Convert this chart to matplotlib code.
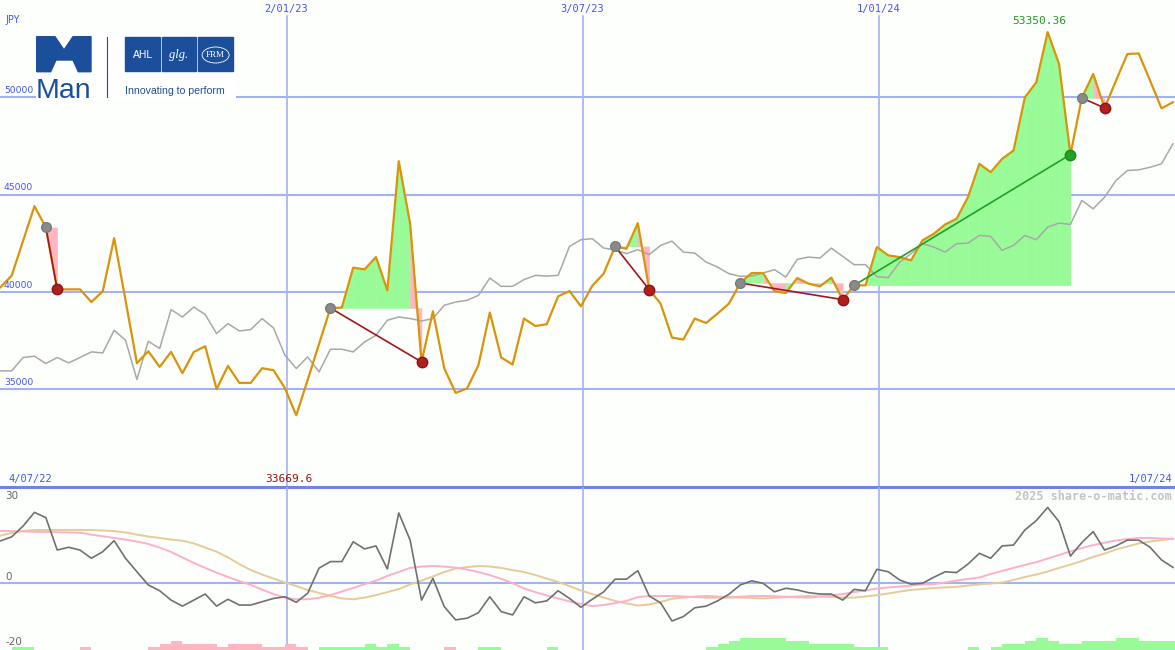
import numpy as np
import pandas as pd
import matplotlib
matplotlib.use("Agg")
import matplotlib.pyplot as plt
import matplotlib.dates as mdates
import matplotlib.transforms as mtransforms
from matplotlib.patches import Polygon, Rectangle, Ellipse

# ---------------- data ----------------
start_date = "2022-07-10"
n_weeks = 104

price = [
    40241, 40841, 42626, 44410, 43318, 40138, 40138, 40138, 39487, 40036,
    42769, 39574, 36344, 36959, 36154, 36923, 35831, 36923, 37215, 35010,
    36205, 35333, 35333, 36087, 35985, 35062, 33669.6, 35487, 37333, 39179,
    39200, 41251, 41164, 41795, 40087, 46718, 43508, 36410, 39010, 36072,
    34820, 35046, 36241, 38944, 36636, 36277, 38636, 38256, 38344, 39779,
    40051, 39267, 40318, 40944, 42344, 42226, 43538, 40123, 39405, 37662,
    37559, 38636, 38410, 38892, 39405, 40462, 40974, 40974, 40036, 39949,
    40718, 40431, 40292, 40738, 39610, 40344, 40344, 42308, 41882, 41795,
    41626, 42651, 42994, 43472, 43764, 44872, 46585, 46154, 46841, 47267,
    50000, 50769, 53350.36, 51713, 47062, 49969, 51200, 49456, 50856, 52226,
    52256, 50856, 49436, 49744,
]

compare = [
    35949, 35949, 36636, 36703, 36328, 36636, 36359, 36636, 36923, 36872,
    38036, 37523, 35508, 37472, 37097, 39097, 38718, 39231, 38841, 37867,
    38379, 38000, 38072, 38636, 38154, 36754, 36072, 36667, 35897, 37062,
    37062, 36923, 37436, 37779, 38549, 38718, 38636, 38513, 38636, 39318,
    39487, 39574, 39831, 40718, 40292, 40292, 40636, 40856, 40821, 40856,
    42344, 42687, 42738, 42256, 42174, 41969, 42174, 41918, 42395, 42615,
    42051, 42000, 41538, 41282, 40944, 40805, 40821, 40974, 41149, 40769,
    41677, 41795, 41744, 42256, 41831, 41405, 41405, 40790, 40738, 41538,
    41969, 42482, 42308, 42051, 42482, 42513, 42908, 42856, 42138, 42395,
    42908, 42687, 43333, 43538, 43472, 44703, 44277, 44872, 45728, 46241,
    46277, 46410, 46585, 47610,
]

osc = [
    15.4, 16.9, 20.8, 25.8, 23.9, 12.1, 13.1, 12.1, 9.1, 11.5,
    15.5, 9.1, 4.2, -0.6, -2.7, -6.1, -8.3, -6.1, -3.9, -8.3,
    -5.8, -7.9, -7.9, -6.7, -5.5, -4.9, -6.9, -3.6, 5.5, 7.9,
    7.9, 15.1, 12.5, 13.6, 5.2, 25.6, 15.7, -6.1, 1.8, -8.5,
    -13.3, -12.7, -10.7, -4.9, -10.3, -11.5, -4.9, -7.1, -6.4, -2.7,
    -5.5, -8.7, -5.8, -3.1, 1.5, 1.5, 4.6, -4.6, -7.1, -13.7,
    -12.1, -8.9, -8.3, -6.4, -4.0, -0.6, 0.9, 0.0, -3.1, -1.8,
    -2.4, -3.4, -3.9, -3.9, -6.1, -2.2, -2.7, 5.1, 4.2, 1.2,
    -0.3, 0.0, 2.2, 4.2, 3.9, 7.0, 10.9, 9.1, 13.6, 13.9,
    19.4, 22.8, 27.6, 22.4, 9.9, 14.8, 18.8, 12.1, 13.6, 15.7,
    15.7, 13.1, 8.5, 5.8,
]

osc_fast = [
    19.1, 19.0, 18.9, 18.7, 18.7, 18.6, 18.5, 18.4, 17.7, 17.1,
    16.5, 15.9, 15.2, 14.3, 13.0, 11.4, 9.4, 7.4, 5.6, 3.9,
    2.3, 0.8, -0.6, -2.3, -3.9, -5.2, -5.8, -5.8, -5.3, -4.3,
    -3.0, -1.7, -0.3, 1.0, 2.7, 4.1, 5.6, 6.1, 6.3, 6.1,
    5.7, 5.0, 4.1, 3.0, 1.6, 0.1, -1.9, -3.2, -4.4, -5.5,
    -6.6, -7.5, -8.3, -7.9, -7.2, -6.4, -5.0, -4.6, -4.6, -4.6,
    -4.8, -5.0, -5.2, -5.2, -5.2, -4.9, -4.6, -4.6, -4.7, -4.9,
    -5.1, -5.2, -4.8, -4.4, -3.9, -3.2, -2.6, -1.9, -1.5, -1.2,
    -0.8, -0.4, -0.3, 0.3, 1.0, 1.6, 2.1, 3.4, 4.5, 5.6,
    6.7, 7.7, 9.0, 10.3, 11.6, 12.8, 13.9, 14.8, 15.6, 16.1,
    16.5, 16.5, 16.3, 16.1,
]

osc_slow = [
    17.3, 18.3, 19.0, 19.4, 19.4, 19.4, 19.4, 19.4, 19.4, 19.2,
    19.0, 18.5, 17.7, 17.0, 16.5, 15.9, 15.5, 14.5, 13.0, 11.5,
    9.4, 7.0, 4.8, 3.2, 1.7, 0.3, -1.0, -2.4, -3.5, -4.6,
    -5.5, -5.8, -5.2, -4.3, -3.2, -2.1, -0.4, 1.0, 2.5, 4.1,
    5.4, 5.9, 6.3, 6.1, 5.6, 4.8, 4.1, 3.0, 1.7, 0.5,
    -1.0, -2.6, -3.9, -5.2, -6.4, -7.3, -8.1, -7.7, -6.8, -5.6,
    -5.2, -4.8, -4.6, -4.8, -5.0, -5.2, -5.3, -5.5, -5.3, -5.0,
    -4.8, -4.6, -4.8, -5.0, -5.2, -5.2, -4.8, -4.3, -3.7, -3.0,
    -2.4, -2.1, -1.7, -1.5, -1.3, -0.8, -0.4, -0.1, 0.3, 1.2,
    2.3, 3.2, 4.3, 5.6, 6.8, 8.1, 9.6, 10.8, 12.3, 13.4,
    14.5, 15.2, 15.7, 16.3,
]

hist = [
    0, 1, 1, 0, 0, 0, 0, -1, 0, 0,
    0, 0, 0, -1, -2, -3, -2, -2, -2, -1,
    -2, -2, -2, -1, -1, -2, -1, 0, 1, 1,
    1, 1, 2, 1, 2, 1, 0, 0, 0, -1,
    0, 0, 1, 1, 0, 0, 0, 0, 1, 0,
    0, 0, 0, 0, 0, 0, 0, 0, 0, 0,
    0, 0, 1, 2, 3, 4, 4, 4, 4, 3,
    3, 2, 2, 2, 2, 1, 1, 1, 0, 0,
    0, 0, 0, 0, 0, 1, 0, 1, 2, 2,
    3, 4, 3, 2, 2, 3, 3, 3, 4, 4,
    3, 3, 3, 3,
]

trade_entry = [4, 29, 54, 65, 75, 95]
trade_exit = [5, 37, 57, 74, 94, 97]

price_ticks = [35000, 40000, 45000, 50000]
date_ticks = ["2023-01-02", "2023-07-03", "2024-01-01"]
date_tick_labels = ["2/01/23", "3/07/23", "1/01/24"]
range_labels = ["4/07/22", "1/07/24"]
currency = "JPY"
osc_labels = ["30", "0", "-20"]
credit = "2025 share-o-matic.com"

# ---------------- style ----------------
W, H = 1175, 650
BG = "#fcfffc"
GRID = "#a4b2f4"
BORDER = "#7282ea"
LBL = "#4555ee"
ORANGE = "#d9940a"
GREYLINE = "#a8a8a8"
GREEN_FILL = "#98fb98"
PINK_FILL = "#ffb6c1"
LOSS = "#a3161c"
WIN = "#22a022"
LOGO = "#1b4f9c"

price = np.array(price, dtype=float)
dates = pd.date_range(start_date, periods=n_weeks, freq="7D")
xs = mdates.date2num(dates.to_pydatetime())
x_left = xs[0] - 0.18
x_right = xs[0] + 722.3
split = 486.7  # pixel row of panel border

fig = plt.figure(figsize=(W / 100, H / 100), dpi=100, facecolor=BG)
ax = fig.add_axes([0, 1 - split / H, 1, split / H])
ax2 = fig.add_axes([0, 0, 1, 1 - split / H])
for a in (ax, ax2):
    a.set_axis_off()
    a.set_xlim(x_left, x_right)

# ---------------- top panel ----------------
ax.set_ylim(30000, 55000)
for v in price_ticks:
    ax.axhline(v, color=GRID, lw=1.5, zorder=0)
tick_x = mdates.date2num(pd.to_datetime(date_ticks).to_pydatetime())
for d in tick_x:
    ax.axvline(d, ymax=1 - 16 / split, color=GRID, lw=1.2, zorder=0)
ax.axhline(30000, color=BORDER, lw=2.2, zorder=6, clip_on=False)

# trade fills
for e, x_ in zip(trade_entry, trade_exit):
    ep = price[e]
    for i in range(e, x_):
        col = GREEN_FILL if price[i + 1] > ep else PINK_FILL
        ax.fill_between(xs[i:i + 2], ep, price[i:i + 2], color=col,
                        lw=0.3, edgecolor=col, zorder=1)

ax.plot(xs, compare, color=GREYLINE, lw=1.1, zorder=2)
ax.plot(xs, price, color=ORANGE, lw=1.6, zorder=3)

for e, x_ in zip(trade_entry, trade_exit):
    win = price[x_] > price[e]
    c = WIN if win else LOSS
    ax.plot([xs[e], xs[x_]], [price[e], price[x_]], color=c, lw=1.2, zorder=4)
    ax.plot(xs[e], price[e], "o", ms=7, color="#8a8a8a", mec="#7a7a7a", zorder=5)
    ax.plot(xs[x_], price[x_], "o", ms=7.5, color=("#22a022" if win else "#b01e1e"),
            mec=("#1a8a1a" if win else "#8e1414"), zorder=5)

trans_ay = mtransforms.blended_transform_factory(ax.transAxes, ax.transData)
for v in price_ticks:
    ax.text(4 / W, v + 120, str(v), transform=trans_ay, fontsize=6.7, color=LBL,
            ha="left", va="bottom", family="DejaVu Sans", zorder=7)

trans_xa = mtransforms.blended_transform_factory(ax.transData, ax.transAxes)
for d, lab in zip(tick_x, date_tick_labels):
    ax.text(d, 1 - 9 / split, lab, transform=trans_xa, ha="center", va="center",
            fontsize=7.5, family="DejaVu Sans Mono", color=LBL)

ax.text(5 / W, 1 - 20 / split, currency, transform=ax.transAxes, ha="left",
        va="center", fontsize=7, color=LBL)
ax.text(8 / W, (split - 479) / split, range_labels[0], transform=ax.transAxes,
        ha="left", va="center", fontsize=7.5, family="DejaVu Sans Mono", color=LBL)
ax.text(1172 / W, (split - 479) / split, range_labels[1], transform=ax.transAxes,
        ha="right", va="center", fontsize=7.5, family="DejaVu Sans Mono", color=LBL)

imax = int(np.argmax(price))
imin = int(np.argmin(price))
ax.annotate(f"{price[imax]:.2f}", xy=(xs[imax], 1 - 21 / split),
            xycoords=trans_xa, xytext=(-6, 0), textcoords="offset points",
            ha="center", va="center", fontsize=8, family="DejaVu Sans Mono",
            color="#229922")
ax.annotate(f"{price[imin]:.1f}", xy=(xs[imin], (split - 479) / split),
            xycoords=trans_xa, xytext=(-5.5, 0), textcoords="offset points",
            ha="center", va="center", fontsize=8, family="DejaVu Sans Mono",
            color="#a01010")

# ---------------- bottom panel ----------------
lo, hi = -24.25, 35.13
ax2.set_ylim(lo, hi)
ax2.axhline(0, color=GRID, lw=1.5, zorder=0)
for d in tick_x:
    ax2.axvline(d, color=GRID, lw=1.2, zorder=0)

hist = np.array(hist, dtype=float)
unit = 1.07
bar_cols = [GREEN_FILL if h > 0 else PINK_FILL for h in hist]
mask = hist != 0
ax2.bar(xs[mask], np.abs(hist[mask]) * unit, width=7, bottom=lo, align="edge",
        color=np.array(bar_cols)[mask], lw=0, zorder=1)

ax2.plot(xs, osc_slow, color="#e6cb98", lw=1.4, zorder=2)
ax2.plot(xs, osc_fast, color="#ffb0c6", lw=1.4, zorder=2)
ax2.plot(xs, osc, color="#707070", lw=1.2, zorder=3)

ax2.text(5 / W, (H - 496) / (H - split), osc_labels[0], transform=ax2.transAxes,
         ha="left", va="center", fontsize=7.5, color="#666666")
trans2 = mtransforms.blended_transform_factory(ax2.transAxes, ax2.transData)
ax2.text(5 / W, 0.6, osc_labels[1], transform=trans2, ha="left", va="bottom",
         fontsize=7.5, color="#666666")
ax2.text(5 / W, (H - 642) / (H - split), osc_labels[2], transform=ax2.transAxes,
         ha="left", va="center", fontsize=7.5, color="#666666")
ax2.text(1172 / W, (H - 496) / (H - split), credit, transform=ax2.transAxes,
         ha="right", va="center", fontsize=8.5, family="DejaVu Sans Mono",
         weight="bold", color="#c4c4c4")

# ---------------- logo ----------------
lax = fig.add_axes([36 / W, 1 - 99 / H, 200 / W, 66 / H])
lax.set_xlim(36, 236)
lax.set_ylim(99, 33)
lax.set_axis_off()
lax.add_patch(Rectangle((36, 33), 200, 66, color="white", zorder=0))
m_shape = [(36.7, 71.7), (36.7, 36.7), (55, 36.7), (64, 50), (73, 36.7),
           (91, 36.7), (91, 71.7), (78.3, 71.7), (73, 60), (56, 60), (50.7, 71.7)]
lax.add_patch(Polygon(m_shape, closed=True, color=LOGO, zorder=1))
lax.text(63.8, 97.5, "Man", ha="center", va="baseline", fontsize=20.5,
         family="Liberation Sans", color=LOGO)
lax.plot([107, 107], [37, 97], color=LOGO, lw=0.8)
for x0 in (125, 161.7, 198.3):
    lax.add_patch(Rectangle((x0, 37), 34.5, 34.5, color=LOGO, zorder=1))
lax.text(143, 55, "AHL", ha="center", va="center", fontsize=7.5,
         family="Liberation Sans", color="white", zorder=2)
lax.text(179, 55, "glg.", ha="center", va="center", fontsize=9, style="italic",
         family="Liberation Serif", color="white", zorder=2)
lax.text(215.6, 55, "FRM", ha="center", va="center", fontsize=6.5,
         family="Liberation Serif", color="white", zorder=2)
lax.add_patch(Ellipse((215.6, 55), 27, 16, fill=False, ec="white", lw=0.6, zorder=2))
lax.text(125, 93.5, "Innovating to perform", ha="left", va="baseline",
         fontsize=7.6, family="Liberation Sans", color="#244f95")

fig.savefig("out.png", dpi=100, facecolor=BG)
